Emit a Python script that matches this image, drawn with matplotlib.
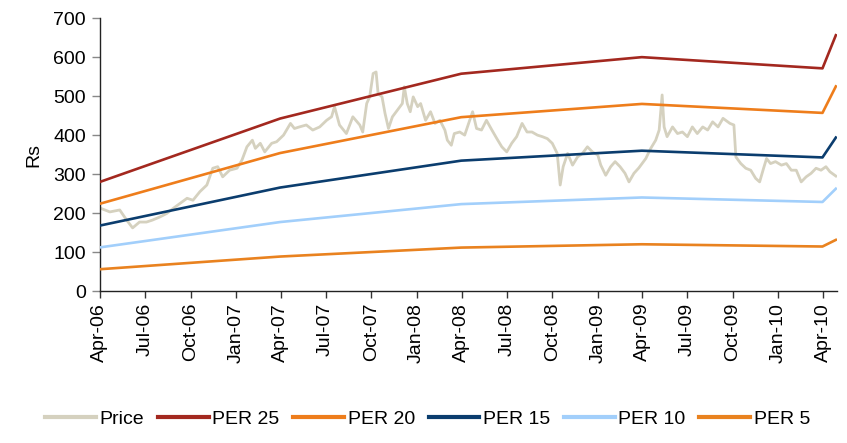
import matplotlib
matplotlib.use("Agg")
import matplotlib.pyplot as plt
import matplotlib.dates as mdates
import numpy as np
import pandas as pd

plt.rcParams["font.family"] = ["Liberation Sans", "DejaVu Sans"]

# ---------------------------------------------------------------------------
# Data
# ---------------------------------------------------------------------------
price_dates = [
    "2006-04-01", "2006-04-21", "2006-05-11", "2006-05-25", "2006-06-06", "2006-06-20",
    "2006-07-04", "2006-07-16", "2006-07-31", "2006-08-14", "2006-08-27", "2006-09-10",
    "2006-09-24", "2006-10-06", "2006-10-20", "2006-11-03", "2006-11-15", "2006-11-25",
    "2006-12-05", "2006-12-19", "2007-01-03", "2007-01-13", "2007-01-23", "2007-02-03",
    "2007-02-09", "2007-02-19", "2007-02-28", "2007-03-14", "2007-03-24", "2007-04-07",
    "2007-04-21", "2007-04-29", "2007-05-09", "2007-05-23", "2007-06-05", "2007-06-19",
    "2007-07-03", "2007-07-13", "2007-07-19", "2007-07-29", "2007-08-12", "2007-08-25",
    "2007-09-08", "2007-09-14", "2007-09-22", "2007-09-28", "2007-10-05", "2007-10-11",
    "2007-10-15", "2007-10-23", "2007-10-29", "2007-11-05", "2007-11-13", "2007-11-23",
    "2007-12-03", "2007-12-07", "2007-12-13", "2007-12-19", "2007-12-25", "2008-01-03",
    "2008-01-09", "2008-01-19", "2008-01-29", "2008-02-07", "2008-02-17", "2008-02-27",
    "2008-03-03", "2008-03-11", "2008-03-17", "2008-03-28", "2008-04-07", "2008-04-17",
    "2008-04-23", "2008-05-01", "2008-05-11", "2008-05-21", "2008-06-01", "2008-06-11",
    "2008-06-21", "2008-07-01", "2008-07-11", "2008-07-21", "2008-08-01", "2008-08-11",
    "2008-08-21", "2008-09-01", "2008-09-11", "2008-09-21", "2008-10-01", "2008-10-11",
    "2008-10-17", "2008-10-23", "2008-11-01", "2008-11-11", "2008-11-21", "2008-12-01",
    "2008-12-11", "2008-12-21", "2009-01-01", "2009-01-07", "2009-01-17", "2009-01-27",
    "2009-02-05", "2009-02-15", "2009-02-25", "2009-03-05", "2009-03-15", "2009-03-25",
    "2009-04-08", "2009-04-18", "2009-04-28", "2009-05-05", "2009-05-11", "2009-05-15",
    "2009-05-21", "2009-06-01", "2009-06-11", "2009-06-21", "2009-07-01", "2009-07-11",
    "2009-07-21", "2009-08-01", "2009-08-11", "2009-08-21", "2009-09-01", "2009-09-11",
    "2009-09-25", "2009-10-03", "2009-10-07", "2009-10-17", "2009-10-27", "2009-11-06",
    "2009-11-16", "2009-11-24", "2009-12-02", "2009-12-08", "2009-12-16", "2009-12-26",
    "2010-01-07", "2010-01-17", "2010-01-27", "2010-02-06", "2010-02-16", "2010-02-26",
    "2010-03-08", "2010-03-18", "2010-03-28", "2010-04-07", "2010-04-15", "2010-04-27",
]
price = [
    213, 203, 208, 182, 162, 177,
    177, 182, 190, 199, 212, 225,
    238, 233, 255, 272, 315, 319,
    293, 310, 315, 336, 370, 387,
    366, 379, 357, 379, 383, 400,
    430, 417, 421, 426, 413, 421,
    438, 447, 473, 426, 404, 447,
    426, 408, 481, 498, 558, 562,
    507, 498, 456, 417, 447, 464,
    481, 524, 481, 460, 498, 473,
    481, 438, 460, 430, 438, 413,
    387, 374, 404, 408, 400, 438,
    460, 417, 413, 438, 413, 391,
    370, 357, 379, 396, 430, 408,
    408, 400, 396, 391, 379, 353,
    272, 319, 353, 323, 344, 353,
    370, 357, 349, 323, 297, 319,
    332, 319, 302, 280, 302, 316,
    340, 366, 387, 413, 503, 421,
    396, 421, 404, 408, 396, 421,
    404, 421, 413, 434, 421, 443,
    430, 426, 344, 327, 315, 310,
    289, 280, 315, 340, 327, 332,
    323, 327, 310, 310, 280, 293,
    302, 315, 310, 319, 306, 295,
]

# EPS path used for the PE bands (fiscal year ends + forward)
eps_dates = ["2006-04-01", "2007-03-31", "2008-03-31", "2009-03-31",
             "2010-03-31", "2010-04-27"]
eps = [11.2, 17.7, 22.3, 24.0, 22.85, 26.25]
pe_multiples = [25, 20, 15, 10, 5]
band_labels = ["PER 25", "PER 20", "PER 15", "PER 10", "PER 5"]

# ---------------------------------------------------------------------------
# Style
# ---------------------------------------------------------------------------
C_PRICE = "#D5D1BF"
BAND_COLORS = ["#A3281F", "#EE7D1B", "#0B3D6E", "#A2CFFB", "#E9821F"]
FS = 14

fig = plt.figure(figsize=(8.47, 4.43), dpi=100)
ax = fig.add_axes([0.118, 0.343, 0.870, 0.616])

pdates = pd.to_datetime(price_dates)
edates = pd.to_datetime(eps_dates)
eps_arr = np.array(eps)

ax.plot(pdates, price, color=C_PRICE, lw=2.0, label="Price", zorder=2)
for pe, lab, col in zip(pe_multiples, band_labels, BAND_COLORS):
    ax.plot(edates, eps_arr * pe, color=col, lw=1.9, label=lab, zorder=3)

# ---------------------------------------------------------------------------
# Axes
# ---------------------------------------------------------------------------
ax.set_ylim(0, 700)
ax.set_yticks(np.arange(0, 701, 100))
ax.set_xlim(pd.Timestamp("2006-04-01"), pd.Timestamp("2010-04-29"))
ax.xaxis.set_major_locator(mdates.MonthLocator(bymonth=[1, 4, 7, 10]))
ax.xaxis.set_major_formatter(mdates.DateFormatter("%b-%y"))
for lbl in ax.get_xticklabels():
    lbl.set_rotation(90)

ax.tick_params(axis="both", labelsize=FS, direction="out", length=5,
               width=1, color="#333333")
ax.tick_params(axis="y", color="#888888", length=6, pad=4)
ax.set_ylabel("Rs", fontsize=FS, labelpad=8)

for side in ["top", "right"]:
    ax.spines[side].set_visible(False)
for side in ["left", "bottom"]:
    ax.spines[side].set_color("#222222")
    ax.spines[side].set_linewidth(1.0)

leg = fig.legend(loc="lower center", ncol=6, frameon=False, fontsize=FS,
                 bbox_to_anchor=(0.505, -0.005), handlelength=2.6,
                 handletextpad=0.2, columnspacing=0.7)
for h in leg.legend_handles:
    h.set_linewidth(3)

fig.savefig("out.png", dpi=100, facecolor="white")
plt.close(fig)
